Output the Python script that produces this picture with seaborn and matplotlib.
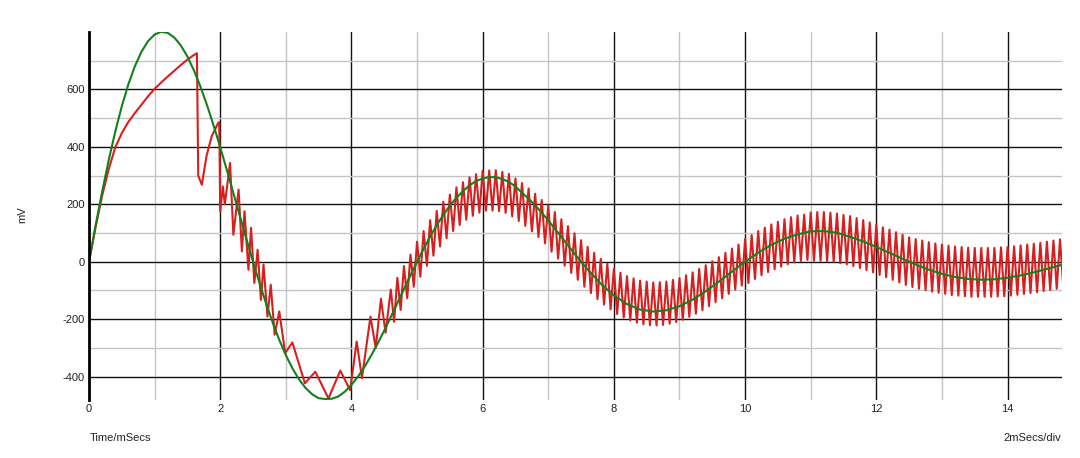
import numpy as np
import pandas as pd
import matplotlib
matplotlib.use("Agg")
import matplotlib.pyplot as plt
import seaborn as sns

# ---------------- data ----------------
# green trace: 0.1 ms samples 0..7.0, then 0.2 ms samples 7.2..15.0
green_t = np.round(np.concatenate([np.arange(71) * 0.1, 7.2 + np.arange(40) * 0.2]), 2)
green_v = [0, 125.2, 243.5, 353.2, 452.9, 541.4, 617.8, 681.3, 731.5, 768.1,
           791.1, 800.6, 796.9, 780.8, 753.0, 714.4, 665.9, 608.8, 544.4, 473.8,
           398.7, 320.2, 239.7, 158.7, 78.3, 0, -75.2, -146.2, -212.1, -272.0,
           -325.2, -370.9, -409.2, -439.3, -461.3, -475.1, -478, -477, -469.0, -452.2,
           -429.0, -399.9, -365.7, -326.9, -284.5, -239.4, -192.3, -143.9, -95.3, -47.0,
           0, 45.2, 87.8, 127.4, 163.3, 195.2, 222.8, 245.7, 266, 281,
           290, 295, 294, 288, 278, 262, 240.1, 219.5, 196.3, 170.9,
           143.8,
           86.4, 28.2, -27.1, -76.5, -117.3, -147.5, -166.3, -173.4, -169.1, -154.7,
           -131.9, -102.6, -69.3, -34.4, 0, 31.7, 58.9, 80.3, 95.1, 106,
           107, 101, 86.6, 70.8, 51.8, 31.2, 10.2, -9.8, -27.6, -42.3,
           -53.2, -60.0, -62.5, -61.0, -55.8, -47.5, -37.0, -25.0, -12.4, 0]

# red trace, irregular start (time ms, value mV)
red_early_t = [0, 0.1, 0.2, 0.3, 0.4, 0.5, 0.6, 0.7, 0.8, 0.9,
               1.0, 1.1, 1.2, 1.3, 1.4, 1.5, 1.6, 1.645, 1.655, 1.665,
               1.72, 1.79, 1.87, 1.97, 1.985, 2.0, 2.04, 2.07, 2.15, 2.2,
               2.28, 2.33, 2.37, 2.43, 2.47, 2.52, 2.57, 2.62, 2.66, 2.72,
               2.77, 2.83, 2.90, 2.99, 3.10, 3.29, 3.45, 3.65, 3.83, 3.98,
               4.08, 4.16, 4.29, 4.37, 4.45, 4.52]
red_early_v = [0, 120, 230, 322, 398, 448, 487, 518, 547, 576,
               602, 624, 645, 665, 685, 704, 720, 726, 510, 300,
               268, 367, 437, 484, 486, 175, 262, 200, 344, 94,
               251, 36, 176, -28, 118, -74, 42, -133, -10, -191,
               -80, -254, -173, -318, -281, -423, -383, -476, -379, -447,
               -278, -405, -191, -300, -129, -247]

# red trace, regular ripple: one peak and one trough per 0.1 ms cycle from 4.6 ms
ripple_start = 4.6
ripple_period = 0.1
red_hi = [-97, -56, -15, 25, 70, 107, 145, 177, 209, 234,
          259, 277, 294, 305, 317, 318, 319, 313, 306, 290,
          274, 255, 237, 215, 197, 173, 148, 124, 99, 75,
          52, 31, 10, -7, -25, -38, -50, -58, -66, -69,
          -72, -71, -69, -63, -57, -47, -37, -25, -12, 2,
          16, 31, 46, 60, 80, 93, 107, 119, 130, 139,
          148, 155, 161, 164, 172, 173, 173, 171, 168, 163,
          159, 152, 145, 137, 129, 120, 112, 103, 94, 85,
          79, 74, 68, 64, 60, 56, 53, 51, 49, 48,
          48, 48, 48, 50, 51, 54, 57, 60, 63, 66,
          70, 74, 78]
red_lo = [-209, -168, -127, -87, -52, -14, 21, 53, 82, 107,
          128, 146, 160, 171, 178, 178, 176, 170, 158, 142,
          125, 106, 86, 64, 35, 11, -14, -39, -63, -87,
          -109, -130, -149, -166, -182, -194, -204, -212, -218, -221,
          -222, -220, -216, -210, -202, -192, -181, -169, -155, -141,
          -127, -112, -97, -83, -74, -60, -47, -36, -26, -17,
          -9, -2, 3, 6, 3, 3, 2, 0, -5, -9,
          -15, -22, -29, -37, -46, -54, -63, -72, -81, -88,
          -94, -99, -104, -108, -112, -116, -118, -120, -122, -122,
          -122, -122, -121, -120, -118, -115, -112, -109, -106, -102,
          -98, -94, -91]

x_major = [0, 2, 4, 6, 8, 10, 12, 14]
y_major = [-400, -200, 0, 200, 400, 600]

# ---------------- assemble series ----------------
k = np.arange(len(red_hi))
rip_t = np.empty(2 * len(k))
rip_v = np.empty(2 * len(k))
rip_t[0::2] = ripple_start + ripple_period * k
rip_t[1::2] = ripple_start + ripple_period * k + ripple_period / 2
rip_v[0::2] = red_hi
rip_v[1::2] = red_lo
red_t = np.concatenate([red_early_t, rip_t])
red_v = np.concatenate([red_early_v, rip_v])

red_df = pd.DataFrame({"t": red_t, "v": red_v})
green_df = pd.DataFrame({"t": green_t, "v": green_v})

# ---------------- plot ----------------
sns.set_style("white")
plt.rcParams["font.family"] = ["Liberation Sans", "DejaVu Sans"]

fig = plt.figure(figsize=(10.8, 4.58), dpi=100)
ax = fig.add_axes([89 / 1080, 1 - 399.6 / 458, (1062 - 89) / 1080, (399.6 - 32) / 458])

sns.lineplot(data=red_df, x="t", y="v", estimator=None, sort=False,
             color="#d81f1f", linewidth=1.5, ax=ax)
sns.lineplot(data=green_df, x="t", y="v", estimator=None, sort=False,
             color="#13801a", linewidth=1.5, ax=ax)

ax.set_xlim(0, 14.83)
ax.set_ylim(-480, 800)
ax.set_xticks(x_major)
ax.set_xticks([1, 3, 5, 7, 9, 11, 13], minor=True)
ax.set_yticks(y_major)
ax.set_yticks([-300, -100, 100, 300, 500, 700], minor=True)
ax.set_xticklabels([str(v) for v in x_major])
ax.set_yticklabels([str(v) for v in y_major])
ax.set_axisbelow(True)
ax.grid(which="major", color="#111111", linewidth=1.0)
ax.grid(which="minor", color="#c4c4c4", linewidth=1.0)
ax.tick_params(which="both", length=0)
ax.tick_params(axis="x", pad=3, labelsize=8, labelcolor="#222222")
ax.tick_params(axis="y", pad=3, labelsize=8, labelcolor="#222222")
ax.set_xlabel("")
ax.set_ylabel("")
for s in ["top", "right", "bottom"]:
    ax.spines[s].set_visible(False)
ax.spines["left"].set_color("black")
ax.spines["left"].set_linewidth(2.0)

fig.text(22 / 1080, 1 - 215 / 458, "mV", rotation=90, ha="center", va="center",
         fontsize=8, color="#222222")
fig.text(90 / 1080, 1 - 438 / 458, "Time/mSecs", ha="left", va="center",
         fontsize=8, color="#222222")
fig.text(1061 / 1080, 1 - 438 / 458, "2mSecs/div", ha="right", va="center",
         fontsize=8, color="#222222")

fig.savefig("out.png", dpi=100)
